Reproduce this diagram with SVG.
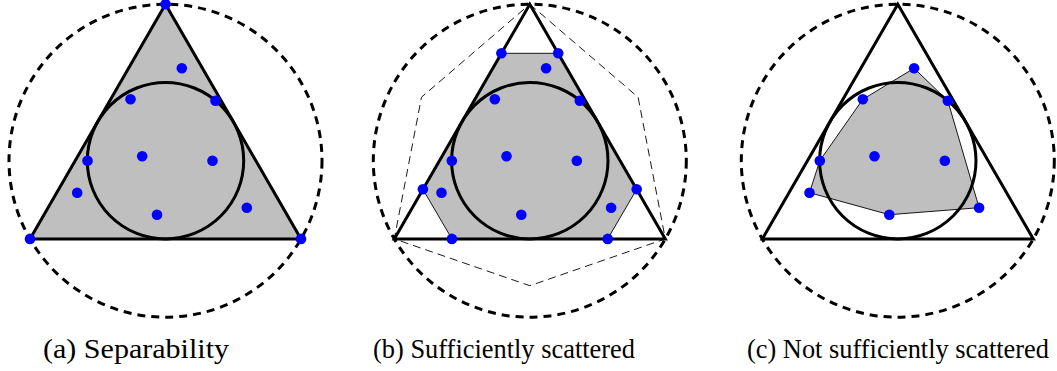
<svg xmlns="http://www.w3.org/2000/svg" xmlns:xlink="http://www.w3.org/1999/xlink" width="1057" height="371" viewBox="0 0 1057 371">
<style>
.tri{fill:none;stroke:#000;stroke-width:3;stroke-linejoin:miter}
.trifill{fill:#bfbfbf;stroke:#000;stroke-width:3}
.inc{fill:none;stroke:#000;stroke-width:3}
.outc{fill:none;stroke:#000;stroke-width:3;stroke-dasharray:8 6}
.hull{fill:#bfbfbf;stroke:#000;stroke-width:0.9;stroke-linejoin:round}
.dual{fill:none;stroke:#000;stroke-width:0.9;stroke-dasharray:8 5}
.pt{fill:#0000ff}
.cap{font-family:"Liberation Serif","Times New Roman",serif;font-size:26.5px;fill:#000}
</style>
<defs>
<g id="inner">
<circle class="pt" cx="16.3" cy="68.3" r="5.3"/>
<circle class="pt" cx="-35" cy="99.3" r="5.3"/>
<circle class="pt" cx="50" cy="100.7" r="5.3"/>
<circle class="pt" cx="-78" cy="160.7" r="5.3"/>
<circle class="pt" cx="-23.3" cy="156.3" r="5.3"/>
<circle class="pt" cx="47" cy="160.7" r="5.3"/>
<circle class="pt" cx="-88.3" cy="192.7" r="5.3"/>
<circle class="pt" cx="81.3" cy="207.7" r="5.3"/>
<circle class="pt" cx="-8.5" cy="214.7" r="5.3"/>
</g>
</defs>

<g id="panel-a" transform="translate(165.5,0)">
<circle class="outc" cx="0" cy="160.7" r="156.5"/>
<polygon class="trifill" points="0,4.2 135.5,238.9 -135.5,238.9"/>
<circle class="inc" cx="0" cy="160.7" r="78.2"/>
<use xlink:href="#inner"/>
<circle class="pt" cx="0" cy="4.2" r="5.3"/>
<circle class="pt" cx="-135.5" cy="238.9" r="5.3"/>
<circle class="pt" cx="135.5" cy="238.9" r="5.3"/>
</g>

<g id="panel-b" transform="translate(529.8,0)">
<circle class="outc" cx="0" cy="160.7" r="156.5"/>
<polygon class="dual" points="0,4.2 108.3,97.2 135.5,238.9 0,285.7 -135.5,238.9 -108.3,97.2"/>
<polygon class="hull" points="-28.4,53.3 28.4,53.3 106.9,189.3 77.9,238.9 -77.9,238.9 -106.9,189.3"/>
<polygon class="tri" points="0,4.2 135.5,238.9 -135.5,238.9"/>
<circle class="inc" cx="0" cy="160.7" r="78.2"/>
<use xlink:href="#inner"/>
<circle class="pt" cx="-28.4" cy="53.3" r="5.3"/>
<circle class="pt" cx="28.4" cy="53.3" r="5.3"/>
<circle class="pt" cx="106.9" cy="189.3" r="5.3"/>
<circle class="pt" cx="77.9" cy="238.9" r="5.3"/>
<circle class="pt" cx="-77.9" cy="238.9" r="5.3"/>
<circle class="pt" cx="-106.9" cy="189.3" r="5.3"/>
</g>

<g id="panel-c" transform="translate(897.8,0)">
<circle class="outc" cx="0" cy="160.7" r="156.5"/>
<polygon class="hull" points="16.3,68.3 50,100.7 81.3,207.7 -8.5,214.7 -88.3,192.7 -78,160.7 -35,99.3"/>
<polygon class="tri" points="0,4.2 135.5,238.9 -135.5,238.9"/>
<circle class="inc" cx="0" cy="160.7" r="78.2"/>
<use xlink:href="#inner"/>
</g>

<g id="captions">
<text class="cap" x="43" y="358" textLength="186" lengthAdjust="spacingAndGlyphs">(a) Separability</text>
<text class="cap" x="373" y="358" textLength="262" lengthAdjust="spacingAndGlyphs">(b) Sufficiently scattered</text>
<text class="cap" x="747" y="358" textLength="302" lengthAdjust="spacingAndGlyphs">(c) Not sufficiently scattered</text>
</g>
</svg>
